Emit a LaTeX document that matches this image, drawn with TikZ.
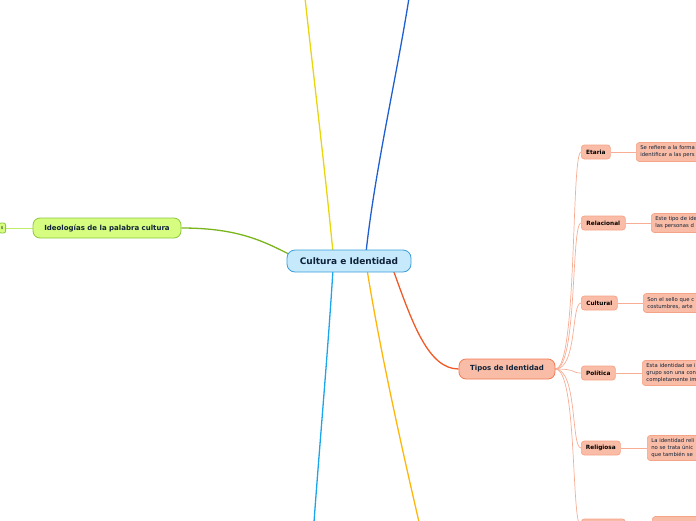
\documentclass[tikz,border=0pt]{standalone}
\usepackage{fontspec}
\setsansfont{DejaVu Sans}
\usetikzlibrary{calc,backgrounds}
\definecolor{mmRootFill}{HTML}{C6E9FB}
\definecolor{mmRootLine}{HTML}{3A9FD8}
\definecolor{mmInk}{HTML}{0F2238}
\definecolor{mmLime}{HTML}{D6FC80}
\definecolor{mmLimeLine}{HTML}{8DC63F}
\definecolor{mmLimeLink}{HTML}{7AB51C}
\definecolor{mmSalmon}{HTML}{F9BCA6}
\definecolor{mmRed}{HTML}{F05A28}
\definecolor{mmPeach}{HTML}{F5A487}
\definecolor{mmYellow}{HTML}{E8D60C}
\definecolor{mmBlue}{HTML}{1F5FD0}
\definecolor{mmSky}{HTML}{1AA6EA}
\definecolor{mmAmber}{HTML}{FFB60A}
\newcommand{\MMType}{\sffamily\fontsize{5.3}{7}\selectfont}
\tikzset{mm/base/.style={x=1pt,y=-1pt,line cap=round,
  every node/.style={font=\MMType,inner sep=0pt,text=mmInk}},
  mm/root/.style={draw=mmRootLine,fill=mmRootFill,line width=.8pt,rounded corners=8pt,
    minimum width=124pt,minimum height=22pt,font=\sffamily\bfseries\fontsize{9}{10}\selectfont},
  mm/main/.style={line width=.8pt,rounded corners=7pt,minimum height=20pt,
    font=\sffamily\bfseries\fontsize{7}{8}\selectfont},
  mm/topic/.style={draw=mmPeach,fill=mmSalmon,line width=.7pt,rounded corners=3pt,anchor=west,
    minimum height=14pt,font=\sffamily\bfseries\fontsize{5.8}{7}\selectfont,text=black},
  mm/note/.style={draw=mmPeach,fill=mmSalmon,line width=.7pt,rounded corners=3pt,anchor=west,
    minimum height=19pt,inner xsep=4pt,inner ysep=3pt,text width=80pt,align=left},
  mm/link/.style={line width=1.3pt},
  mm/twig/.style={draw=mmPeach!90,line width=.7pt}}

\begin{document}
\begin{tikzpicture}[mm/base]
  \useasboundingbox (0,0) rectangle (696,520);
  % central topic and its main branches
  \node[mm/root] (root) at (349,261) {Cultura e Identidad};
  \node[mm/main,fill=mmLime,draw=mmLimeLine,minimum width=148pt] (ideo) at (107,228)
    {Ideologías de la palabra cultura};
  \node[mm/main,fill=mmLime,draw=mmLimeLine,anchor=east,minimum height=10pt,
    inner xsep=2pt,rounded corners=2pt,font=\sffamily\fontsize{5}{6}\selectfont] (ideoSub) at (6,228) {s};
  \node[mm/main,fill=mmSalmon,draw=mmRed!80,minimum width=96pt] (tipos) at (507,369)
    {Tipos de Identidad};
  \coordinate (upYellow) at (305,-2);
  \coordinate (upBlue) at (409,-2);
  \coordinate (downSky) at (314,522);
  \coordinate (downAmber) at (419,522);
  \begin{scope}[on background layer]
    \draw[mm/link,mmYellow] ($(root.north)+(-16,3)$) .. controls (325,170) and (314,80) .. (upYellow);
    \draw[mm/link,mmBlue] ($(root.north)+(17,3)$) .. controls (375,170) and (396,80) .. (upBlue);
    \draw[mm/link,mmSky] ($(root.south)+(-16,-3)$) .. controls (328,350) and (320,440) .. (downSky);
    \draw[mm/link,mmAmber] ($(root.south)+(18,-3)$) .. controls (380,350) and (400,440) .. (downAmber);
    \draw[mm/link,mmLimeLink] (ideo.east) .. controls (240,228) and (265,242) .. ($(root.west)+(8,-4)$);
    \draw[mm/twig,draw=mmLime!70!mmLimeLine] (ideoSub.east) -- (ideo.west);
    \draw[mm/link,mmRed] ($(root.south)+(44,-3)$) .. controls (412,322) and (428,369) .. (tipos.west);
  \end{scope}
  % identity types with their notes
  \foreach \id/\lab/\y/\w/\nx/\txt in {
    eta/Etaria/152/29/636/{Se refiere a la forma\\identificar a las pers},
    rel/Relacional/223/44/651/{Este tipo de ide\\las personas d},
    cul/Cultural/303/36/643/{Son el sello que c\\costumbres, arte},
    pol/Política/373/34/642/{Esta identidad se i\\grupo son una con\\completamente im},
    rgl/Religiosa/448/39/647/{La identidad reli\\no se trata únic\\que también se},
    otr/{}/526/44/652/{}}{%
    \node[mm/topic,minimum width=\w pt] (t-\id) at (581,\y) {\lab};
    \node[mm/note] (n-\id) at (\nx,\y) {\txt};
    \begin{scope}[on background layer]
      \draw[mm/twig] (t-\id.east) -- (n-\id.west |- t-\id.east);
      \draw[mm/twig] (tipos.east) .. controls +(22,0) and +(-10,0) .. (t-\id.west);
    \end{scope}}
\end{tikzpicture}
\end{document}
